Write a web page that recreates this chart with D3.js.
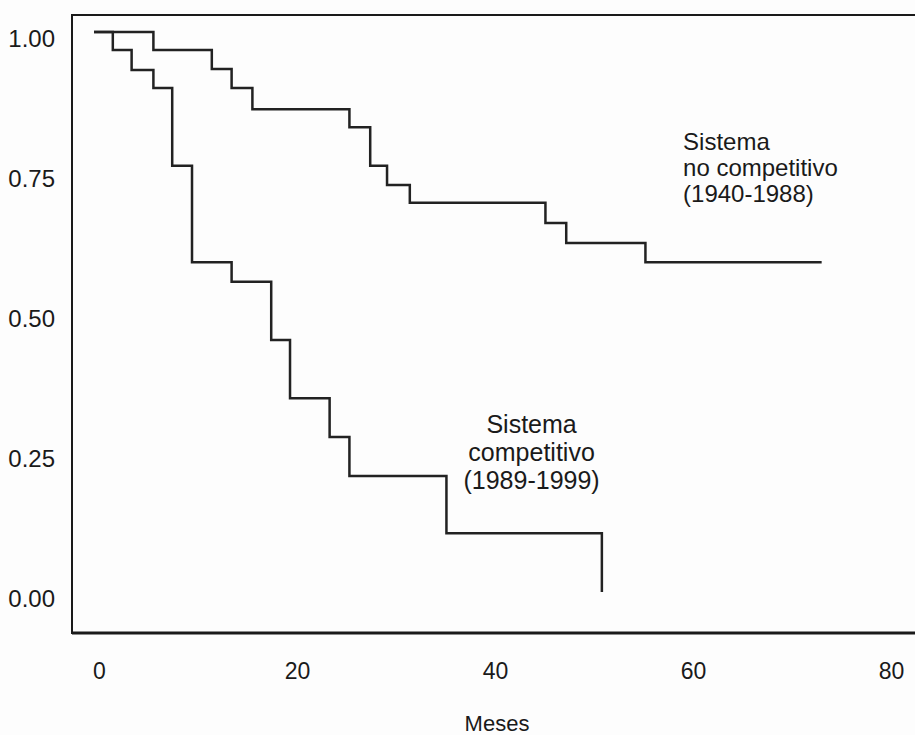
<!DOCTYPE html>
<html lang="es">
<head>
  <meta charset="UTF-8">
  <title>Supervivencia por sistema</title>
  <script src="https://d3js.org/d3.v7.min.js"></script>
  <style>
    body {
      margin: 0;
      background: #fdfdfd;
      font-family: "Liberation Sans", Arial, Helvetica, sans-serif;
    }
    svg { display: block; }
    .tick text { fill: #1a1a1a; }
  </style>
</head>
<body>
  <svg width="915" height="735"></svg>
  <script>
    // Sistema no competitivo (1940-1988): step times (months) and survival
    const nonCompTimes = [0, 6.0, 11.9, 13.9, 16.0, 25.8, 27.9, 29.6, 31.9, 45.6, 47.7, 55.7];
    const nonCompSurv  = [1.0, 0.968, 0.934, 0.900, 0.862, 0.830, 0.761, 0.727, 0.695, 0.659, 0.623, 0.589];
    const nonCompEnd = 73.5;

    // Sistema competitivo (1989-1999)
    const compTimes = [0, 1.9, 3.8, 6.0, 7.9, 9.9, 13.9, 17.9, 19.8, 23.8, 25.8, 35.6, 51.3];
    const compSurv  = [1.0, 0.968, 0.932, 0.900, 0.761, 0.589, 0.554, 0.450, 0.346, 0.277, 0.207, 0.105, 0.0];
    const compEnd = 51.3;

    const xTicks = [0, 20, 40, 60, 80];
    const yTicks = [0, 0.25, 0.5, 0.75, 1];

    const svg = d3.select("svg");

    const x = d3.scaleLinear().domain([0, 80]).range([94, 886]);
    const y = d3.scaleLinear().domain([0, 1]).range([592, 32]);

    // frame (right side runs off the page, as in the scan)
    svg.append("rect")
      .attr("x", 72).attr("y", 15)
      .attr("width", 900).attr("height", 618)
      .attr("fill", "none")
      .attr("stroke", "#1a1a1a")
      .attr("stroke-width", 2);
    svg.append("line")
      .attr("x1", 72).attr("x2", 915)
      .attr("y1", 633).attr("y2", 633)
      .attr("stroke", "#1a1a1a").attr("stroke-width", 3);

    // axes: labels only
    const xAxis = svg.append("g")
      .attr("transform", "translate(5,660)")
      .call(d3.axisBottom(x).tickValues(xTicks).tickSize(0).tickFormat(d3.format("d")));
    xAxis.select(".domain").remove();
    xAxis.selectAll("text").attr("font-size", 23).attr("font-family", "Liberation Sans, Arial, sans-serif");

    const yAxis = svg.append("g")
      .attr("transform", "translate(58,7)")
      .call(d3.axisLeft(y).tickValues(yTicks).tickSize(0).tickFormat(d3.format(".2f")));
    yAxis.select(".domain").remove();
    yAxis.selectAll("text").attr("font-size", 24).attr("font-family", "Liberation Sans, Arial, sans-serif");

    svg.append("text")
      .attr("x", 497).attr("y", 731)
      .attr("text-anchor", "middle")
      .attr("font-size", 22)
      .attr("fill", "#1a1a1a")
      .text("Meses");

    // step curves
    function stepData(times, surv, end) {
      const pts = times.map((t, i) => [t, surv[i]]);
      pts.push([end, surv[surv.length - 1]]);
      return pts;
    }
    const line = d3.line()
      .x(d => x(d[0]))
      .y(d => y(d[1]))
      .curve(d3.curveStepAfter);

    svg.append("path")
      .datum(stepData(nonCompTimes, nonCompSurv, nonCompEnd))
      .attr("d", line)
      .attr("fill", "none")
      .attr("stroke", "#222")
      .attr("stroke-width", 2.5);

    svg.append("path")
      .datum(stepData(compTimes, compSurv, compEnd))
      .attr("d", line)
      .attr("fill", "none")
      .attr("stroke", "#222")
      .attr("stroke-width", 2.5);

    // annotations
    const nonCompLabel = ["Sistema", "no competitivo", "(1940-1988)"];
    const compLabel = ["Sistema", "competitivo", "(1989-1999)"];

    svg.append("g").selectAll("text")
      .data(nonCompLabel)
      .join("text")
      .attr("x", x(59.5))
      .attr("y", (d, i) => y(0.805) + i * 26)
      .attr("dy", "0.35em")
      .attr("font-size", 24)
      .attr("fill", "#1a1a1a")
      .text(d => d);

    svg.append("g").selectAll("text")
      .data(compLabel)
      .join("text")
      .attr("x", x(44.2))
      .attr("y", (d, i) => y(0.30) + i * 28)
      .attr("dy", "0.35em")
      .attr("text-anchor", "middle")
      .attr("font-size", 25)
      .attr("fill", "#1a1a1a")
      .text(d => d);
  </script>
</body>
</html>
